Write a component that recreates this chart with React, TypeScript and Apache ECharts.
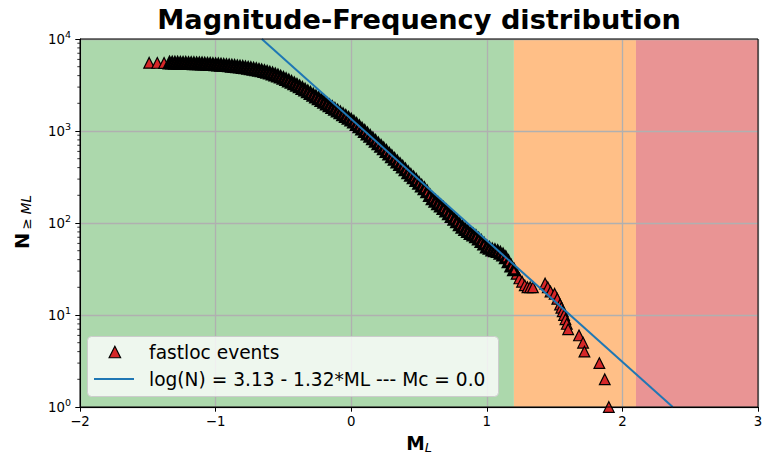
import React, { useEffect, useRef } from "react";
import * as echarts from "echarts";

// ---------- data ----------
const TITLE = "Magnitude-Frequency distribution";
const EVENTS_NAME = "fastloc events";
const FIT_A = 3.13;
const FIT_B = 1.32;
const MC = 0.0;
const FIT_NAME = `log(N) = ${FIT_A.toFixed(2)} - ${FIT_B.toFixed(2)}*ML --- Mc = ${MC.toFixed(1)}`;

const X_MIN = -2;
const X_MAX = 3;
const Y_MIN = 1;
const Y_MAX = 10000;

// magnitude ranges of the shaded zones
const ZONES: number[][] = [
  [-2, 1.2],
  [1.2, 2.1],
  [2.1, 3],
];

const MINOR_TICKS = [
  2, 3, 4, 5, 6, 7, 8, 9,
  20, 30, 40, 50, 60, 70, 80, 90,
  200, 300, 400, 500, 600, 700, 800, 900,
  2000, 3000, 4000, 5000, 6000, 7000, 8000, 9000,
];

// [ML, cumulative N >= ML]
const EVENTS_SPARSE_START: number[][] = [
  [-1.49, 5510], [-1.43, 5500], [-1.38, 5490],
];

const EVENTS_DENSE: number[][] = [
  [-1.34, 5480], [-1.32, 5470], [-1.30, 5462], [-1.28, 5455], [-1.26, 5447],
  [-1.24, 5438], [-1.22, 5428], [-1.20, 5418], [-1.18, 5407], [-1.16, 5395],
  [-1.14, 5382], [-1.12, 5368], [-1.10, 5352], [-1.08, 5335], [-1.06, 5316],
  [-1.04, 5296], [-1.02, 5274], [-1.00, 5250], [-0.98, 5225], [-0.96, 5198],
  [-0.94, 5169], [-0.92, 5138], [-0.90, 5105], [-0.88, 5070], [-0.86, 5032],
  [-0.84, 4992], [-0.82, 4950], [-0.80, 4905], [-0.78, 4858], [-0.76, 4808],
  [-0.74, 4755], [-0.72, 4700], [-0.70, 4640], [-0.68, 4575], [-0.66, 4505],
  [-0.64, 4430], [-0.62, 4350], [-0.60, 4265], [-0.58, 4170], [-0.56, 4070],
  [-0.54, 3965], [-0.52, 3855], [-0.50, 3740], [-0.48, 3620], [-0.46, 3500],
  [-0.44, 3380], [-0.42, 3260], [-0.40, 3140], [-0.38, 3020], [-0.36, 2900],
  [-0.34, 2785], [-0.32, 2670], [-0.30, 2560], [-0.28, 2450], [-0.26, 2345],
  [-0.24, 2245], [-0.22, 2150], [-0.20, 2055], [-0.18, 1965], [-0.16, 1880],
  [-0.14, 1800], [-0.12, 1720], [-0.10, 1645], [-0.08, 1575], [-0.06, 1505],
  [-0.04, 1440], [-0.02, 1375], [0.00, 1315], [0.02, 1250], [0.04, 1180],
  [0.06, 1115], [0.08, 1050], [0.10, 990], [0.12, 930], [0.14, 875],
  [0.16, 822], [0.18, 772], [0.20, 725], [0.22, 682], [0.24, 640],
  [0.26, 600], [0.28, 562], [0.30, 526], [0.32, 492], [0.34, 461],
  [0.36, 432], [0.38, 405], [0.40, 378], [0.42, 352], [0.44, 330],
  [0.46, 310], [0.48, 290], [0.50, 270], [0.52, 252], [0.54, 236],
  [0.56, 218], [0.58, 199], [0.60, 183], [0.62, 172], [0.64, 162],
  [0.66, 153], [0.68, 144], [0.70, 135], [0.72, 126], [0.74, 118],
  [0.76, 110], [0.78, 103], [0.80, 96], [0.82, 90], [0.84, 85],
  [0.86, 81], [0.88, 77], [0.90, 74], [0.92, 71], [0.94, 67],
  [0.96, 63], [0.98, 59], [1.00, 55], [1.02, 53], [1.04, 51],
  [1.06, 50], [1.08, 49], [1.10, 47], [1.12, 45], [1.14, 42],
  [1.16, 38], [1.18, 34], [1.20, 31],
];

const EVENTS_TAIL: number[][] = [
  [1.22, 28], [1.24, 25], [1.26, 23], [1.28, 21], [1.30, 20], [1.32, 20],
  [1.34, 20], [1.43, 22], [1.45, 20], [1.47, 18], [1.50, 17], [1.52, 15],
  [1.54, 13], [1.55, 12], [1.56, 11], [1.57, 10], [1.58, 9], [1.59, 8],
  [1.60, 7], [1.68, 6], [1.71, 5], [1.72, 4], [1.83, 3], [1.87, 2], [1.90, 1],
];

// ---------- styles ----------
const FONT = "DejaVu Sans";
const ZONE_COLORS = ["#acd8ac", "#ffbf87", "#e99494"];
const MARKER_RED = "#d62728";
const FIT_BLUE = "#1f77b4";
const GRID_GREY = "#b0b0b0";
const LEGEND_FONT = 18.6;

function buildOption(): any {
  const fitLine = [
    [(FIT_A - Math.log10(Y_MAX)) / FIT_B, Y_MAX],
    [(FIT_A - Math.log10(Y_MIN)) / FIT_B, Y_MIN],
  ];
  const legendCommon = {
    orient: "vertical",
    padding: 0,
    itemGap: 0,
    z: 10,
    backgroundColor: "transparent",
  };
  return {
    animation: false,
    backgroundColor: "#ffffff",
    textStyle: { fontFamily: FONT },
    title: {
      text: TITLE,
      left: 419,
      textAlign: "center",
      top: 6,
      padding: 0,
      textStyle: { fontFamily: FONT, fontSize: 27.2, fontWeight: "bold", color: "#000" },
    },
    grid: {
      left: 80,
      right: 13,
      top: 39,
      bottom: 51,
      show: true,
      borderColor: "#000",
      borderWidth: 1,
      backgroundColor: "transparent",
      z: 5,
    },
    legend: [
      {
        ...legendCommon,
        data: [{ name: EVENTS_NAME, icon: "triangle" }],
        left: 108.5,
        top: 341,
        itemWidth: 11.5,
        itemHeight: 11.5,
        itemStyle: { color: MARKER_RED, borderColor: "#000", borderWidth: 1.2, opacity: 1 },
        textStyle: {
          fontFamily: FONT,
          fontSize: LEGEND_FONT,
          color: "#000",
          lineHeight: 22,
          padding: [0, 0, 0, 23.5],
        },
      },
      {
        ...legendCommon,
        data: [{ name: FIT_NAME, icon: "rect" }],
        left: 94,
        top: 368,
        itemWidth: 40,
        itemHeight: 2,
        itemStyle: { color: FIT_BLUE, borderWidth: 0 },
        textStyle: {
          fontFamily: FONT,
          fontSize: LEGEND_FONT,
          color: "#000",
          lineHeight: 22,
          padding: [0, 0, 0, 10],
        },
      },
    ],
    xAxis: {
      type: "value",
      min: X_MIN,
      max: X_MAX,
      interval: 1,
      z: 2,
      axisLine: { onZero: false, lineStyle: { color: "#000", width: 1 } },
      axisTick: { show: true, length: 4.7, lineStyle: { color: "#000", width: 1 } },
      axisLabel: {
        margin: 8,
        fontFamily: FONT,
        fontSize: 13.3,
        color: "#000",
        formatter: (v: number) => (v < 0 ? "\u2212" + Math.abs(v) : String(v)),
      },
      splitLine: { show: true, lineStyle: { color: GRID_GREY, width: 1.3 } },
    },
    yAxis: {
      type: "log",
      logBase: 10,
      min: Y_MIN,
      max: Y_MAX,
      z: 2,
      axisLine: { onZero: false, lineStyle: { color: "#000", width: 1 } },
      axisTick: { show: true, length: 4.7, lineStyle: { color: "#000", width: 1 } },
      axisLabel: {
        margin: 9,
        color: "#000",
        formatter: (v: number) => `{b|10}{e|${Math.round(Math.log10(v))}}`,
        rich: {
          b: { fontFamily: FONT, fontSize: 13.3, color: "#000", lineHeight: 20 },
          e: { fontFamily: FONT, fontSize: 9.5, color: "#000", lineHeight: 10, verticalAlign: "top" },
        },
      },
      splitLine: { show: true, lineStyle: { color: GRID_GREY, width: 1.3 } },
    },
    graphic: [
      {
        type: "rect",
        z: 8,
        silent: true,
        shape: { x: 87.5, y: 336.5, width: 411, height: 60, r: 4 },
        style: { fill: "rgba(255,255,255,0.8)", stroke: "#cccccc", lineWidth: 1 },
      },
      {
        type: "text",
        x: 419,
        y: 443,
        z: 8,
        style: {
          text: "{m|M}{l|L}",
          align: "center",
          verticalAlign: "middle",
          rich: {
            m: { fontFamily: FONT, fontSize: 18.6, fontWeight: "bold", color: "#000", lineHeight: 22 },
            l: { fontFamily: FONT, fontSize: 13, fontStyle: "italic", color: "#000", lineHeight: 22, verticalAlign: "bottom" },
          },
        },
      },
      {
        type: "text",
        x: 22,
        y: 222,
        z: 8,
        rotation: Math.PI / 2,
        style: {
          text: "{n|N}{s|\u2009\u2265 ML}",
          align: "center",
          verticalAlign: "middle",
          rich: {
            n: { fontFamily: FONT, fontSize: 19.5, fontWeight: "bold", color: "#000", lineHeight: 22 },
            s: { fontFamily: FONT, fontSize: 13.5, fontStyle: "italic", color: "#000", lineHeight: 22, verticalAlign: "bottom" },
          },
        },
      },
    ],
    series: [
      {
        name: "zones",
        type: "custom",
        z: -1,
        silent: true,
        data: ZONES,
        renderItem: (params: any, api: any) => {
          const p1 = api.coord([api.value(0), Y_MAX]);
          const p2 = api.coord([api.value(1), Y_MIN]);
          return {
            type: "rect",
            shape: { x: p1[0], y: p1[1], width: p2[0] - p1[0], height: p2[1] - p1[1] },
            style: { fill: ZONE_COLORS[params.dataIndex] },
          };
        },
      },
      {
        name: EVENTS_NAME,
        type: "scatter",
        z: 3,
        symbol: "triangle",
        symbolSize: 10.7,
        itemStyle: { color: MARKER_RED, borderColor: "#000", borderWidth: 1.2, opacity: 1 },
        data: EVENTS_SPARSE_START.concat(EVENTS_TAIL),
      },
      {
        name: EVENTS_NAME,
        type: "scatter",
        z: 3,
        symbol: "triangle",
        symbolSize: 10,
        itemStyle: { color: MARKER_RED, borderColor: "#000", borderWidth: 3, opacity: 1 },
        data: EVENTS_DENSE,
      },
      {
        name: FIT_NAME,
        type: "line",
        z: 4,
        symbol: "none",
        showSymbol: false,
        clip: true,
        itemStyle: { color: FIT_BLUE },
        lineStyle: { color: FIT_BLUE, width: 2 },
        data: fitLine,
      },
      {
        name: "minorTicks",
        type: "custom",
        z: 6,
        silent: true,
        clip: false,
        data: MINOR_TICKS.map((v) => [X_MIN, v]),
        renderItem: (params: any, api: any) => {
          const p = api.coord([api.value(0), api.value(1)]);
          return {
            type: "line",
            shape: { x1: p[0] - 2.7, y1: p[1], x2: p[0], y2: p[1] },
            style: { stroke: "#000", lineWidth: 0.8 },
          };
        },
      },
    ],
  };
}

export default function App() {
  const ref = useRef<HTMLDivElement>(null);
  useEffect(() => {
    if (!ref.current) return;
    const chart = echarts.init(ref.current, null, { renderer: "svg" });
    chart.setOption(buildOption());
    return () => chart.dispose();
  }, []);
  return (
    <div
      ref={ref}
      style={{ position: "absolute", left: 0, top: 0, width: 771, height: 458, background: "#fff" }}
    />
  );
}
